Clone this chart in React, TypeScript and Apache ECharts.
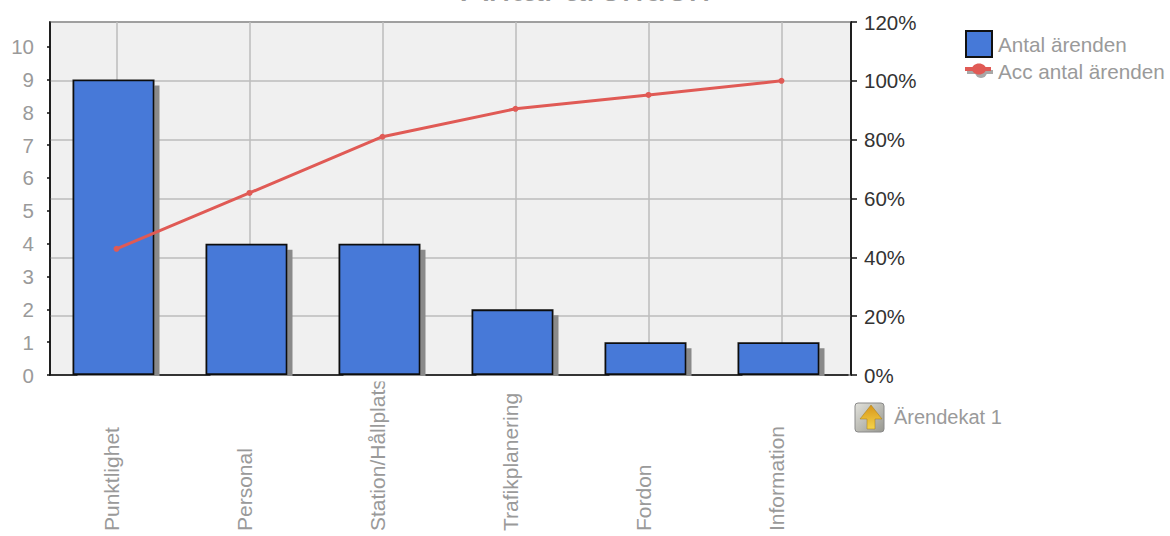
import React, { useEffect, useRef } from "react";
import * as echarts from "echarts";

const categories = ["Punktlighet", "Personal", "Station/Hållplats", "Trafikplanering", "Fordon", "Information"];
const antalValues = [9, 4, 4, 2, 1, 1];
const accValues = [42.9, 61.9, 81, 90.5, 95.2, 100];
const titleText = "Antal ärenden";
const barName = "Antal ärenden";
const lineName = "Acc antal ärenden";
const drillText = "Ärendekat 1";

const FONT = "'Liberation Sans', Arial, sans-serif";
const GRAY = "#9a9a9a";
const INK = "#111";
const RED = "#e05a55";

export default function App() {
  const ref = useRef<HTMLDivElement>(null);
  useEffect(() => {
    const chart = echarts.init(ref.current!, null, { renderer: "svg" });
    chart.setOption({
      animation: false,
      backgroundColor: "#fff",
      title: {
        text: titleText,
        left: 581,
        textAlign: "center",
        top: -38,
        textStyle: { fontFamily: FONT, fontSize: 40, fontWeight: "normal", color: GRAY },
      },
      legend: {
        left: 965,
        top: 30,
        orient: "vertical",
        itemGap: 0,
        itemWidth: 26,
        itemHeight: 26,
        selectedMode: false,
        padding: 0,
        textStyle: { fontFamily: FONT, fontSize: 20.7, color: GRAY, padding: [0, 0, 6, 1] },
        data: [
          { name: barName, icon: "rect", itemStyle: { color: "#4679d8", borderColor: INK, borderWidth: 2 } },
          { name: lineName, icon: "rect", itemStyle: { color: "transparent", borderWidth: 0 }, lineStyle: { width: 0 } },
        ],
      },
      grid: [
        { left: 50, right: 319, top: 22, bottom: 161, show: true, backgroundColor: "#f0f0f0", borderColor: INK, borderWidth: 1.5 },
        { left: 50, right: 322, top: 22, bottom: 161 },
      ],
      xAxis: [
        {
          gridIndex: 0,
          type: "category",
          data: categories,
          axisLine: { show: false },
          axisTick: { show: false },
          axisLabel: { show: false },
        },
        {
          gridIndex: 1,
          type: "category",
          data: categories,
          axisLine: { lineStyle: { color: INK, width: 1.5 } },
          axisTick: { show: false },
          axisLabel: {
            interval: 0,
            rotate: 90,
            align: "left",
            verticalAlign: "bottom",
            lineHeight: 10,
            margin: 156,
            fontFamily: FONT,
            fontSize: 21,
            color: GRAY,
          },
        },
      ],
      yAxis: [
        {
          gridIndex: 0,
          type: "value",
          min: 0,
          max: 120,
          interval: 20,
          position: "right",
          splitLine: { show: true, lineStyle: { color: "#bdbdbd", width: 1.5 } },
          axisLine: { show: true, lineStyle: { color: INK, width: 1.5 } },
          axisTick: { show: true, length: 6, lineStyle: { color: INK, width: 1.5 } },
          axisLabel: { margin: 13, fontFamily: FONT, fontSize: 20.5, color: "#333", formatter: "{value}%" },
        },
        {
          gridIndex: 1,
          type: "value",
          min: 0,
          max: 10.75,
          interval: 1,
          position: "left",
          splitLine: { show: false },
          axisLine: { show: true, lineStyle: { color: INK, width: 1.5 } },
          axisTick: { show: true, length: 3, lineStyle: { color: INK, width: 1.5 } },
          axisLabel: { showMaxLabel: false, margin: 16, fontFamily: FONT, fontSize: 20.5, color: GRAY },
        },
        {
          gridIndex: 1,
          type: "value",
          min: 0,
          max: 120,
          interval: 20,
          show: false,
        },
      ],
      series: [
        {
          name: barName,
          type: "bar",
          xAxisIndex: 1,
          yAxisIndex: 1,
          barWidth: 82,
          barGap: 0,
          z: 3,
          itemStyle: {
            color: "#4679d8",
            borderColor: INK,
            borderWidth: 1.8,
            shadowColor: "#8a8a8a",
            shadowBlur: 0,
            shadowOffsetX: 5,
            shadowOffsetY: 6,
          },
          data: antalValues,
        },
        {
          name: "spacer",
          type: "bar",
          xAxisIndex: 1,
          yAxisIndex: 1,
          barWidth: 6,
          data: [],
        },
        {
          name: lineName,
          type: "line",
          xAxisIndex: 1,
          yAxisIndex: 2,
          z: 4,
          symbol: "circle",
          symbolSize: 6,
          lineStyle: { color: RED, width: 3 },
          itemStyle: { color: RED },
          data: accValues,
          markLine: {
            silent: true,
            z: 1,
            symbol: "none",
            label: { show: false },
            lineStyle: { color: "#bdbdbd", width: 1.5, type: "solid" },
            data: categories.map((c) => ({ xAxis: c })),
          },
        },
      ],
      graphic: [
        { type: "rect", z: 10, shape: { x: 52, y: 376, width: 800, height: 5.5 }, style: { fill: "#fff" } },
        { type: "rect", z: 20, shape: { x: 967, y: 70, width: 26, height: 4 }, style: { fill: "#a8a8a8" } },
        { type: "circle", z: 20, shape: { cx: 981, cy: 72, r: 6 }, style: { fill: "#a8a8a8" } },
        { type: "rect", z: 21, shape: { x: 965, y: 67, width: 26, height: 4 }, style: { fill: RED } },
        { type: "ellipse", z: 21, shape: { cx: 979, cy: 69, rx: 7, ry: 5.5 }, style: { fill: RED } },
        {
          type: "rect",
          shape: { x: 855, y: 403, width: 29, height: 29, r: 3 },
          style: {
            fill: new echarts.graphic.LinearGradient(0, 0, 1, 1, [
              { offset: 0, color: "#e2e2dc" },
              { offset: 1, color: "#97978f" },
            ]),
            stroke: "#8a8a8a",
            lineWidth: 1,
          },
        },
        {
          type: "polygon",
          shape: { points: [[871, 405], [882, 419], [875, 419], [875, 429], [867, 429], [867, 419], [860, 419]] },
          style: {
            fill: new echarts.graphic.LinearGradient(0, 0, 0, 1, [
              { offset: 0, color: "#d8961a" },
              { offset: 1, color: "#f4d34a" },
            ]),
            stroke: "#a27a18",
            lineWidth: 0.5,
          },
        },
        {
          type: "text",
          x: 894,
          y: 417,
          style: { text: drillText, fontFamily: FONT, fontSize: 20, fill: GRAY, textVerticalAlign: "middle" },
        },
      ],
    });
    return () => chart.dispose();
  }, []);
  return <div ref={ref} style={{ position: "fixed", left: 0, top: 0, width: 1170, height: 536 }} />;
}
